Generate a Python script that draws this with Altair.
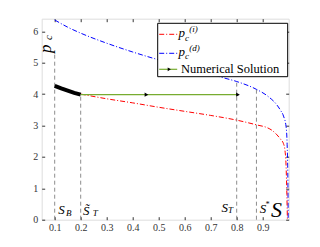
import altair as alt
import pandas as pd

# ---- data ----
blue_x = [0.1, 0.15, 0.2, 0.3, 0.4, 0.5, 0.6, 0.7, 0.74, 0.8, 0.876, 0.92, 0.955, 0.968, 0.98, 0.99, 0.994, 0.997, 0.998]
blue_y = [6.36, 6.13, 5.94, 5.62, 5.34, 5.09, 4.87, 4.65, 4.54, 4.40, 4.15, 3.93, 3.65, 3.49, 3.30, 2.96, 2.4, 1.2, 0.0]

red_x = [0.2, 0.3, 0.4, 0.5, 0.6, 0.7, 0.8, 0.876, 0.92, 0.935, 0.955, 0.97, 0.98, 0.985, 0.99, 0.993, 0.995]
red_y = [4.0, 3.85, 3.72, 3.58, 3.45, 3.32, 3.17, 3.02, 2.92, 2.85, 2.70, 2.55, 2.42, 2.25, 1.7, 0.8, 0.0]

black_x = [0.1, 0.125, 0.15, 0.175, 0.2]
black_y = [4.26, 4.18, 4.11, 4.04, 3.98]

green_x = [0.2, 0.805]
green_y = [3.98, 3.98]
arrow_x = [0.453, 0.805]
arrow_y = [3.98, 3.98]

vline_x = [0.1, 0.2, 0.8, 0.876]
vline_top = [5.34, 3.95, 4.40, 4.15]

x_ticks = [0.1, 0.2, 0.3, 0.4, 0.5, 0.6, 0.7, 0.8, 0.9]
y_ticks = [0, 1, 2, 3, 4, 5, 6]

# annotation glyphs (data coordinates)
ann_text = ["S", "B", "S\u0303", "T", "S", "T", "S", "*", "S"]
ann_x = [0.114, 0.143, 0.209, 0.246, 0.742, 0.767, 0.889, 0.910, 0.932]
ann_y = [0.18, 0.12, 0.15, 0.12, 0.245, 0.21, 0.21, 0.40, 0.10]
ann_size = [13, 9, 13, 9, 13, 9, 13, 8, 22]

W, H = 247, 201
FONT = "Liberation Serif"
XD = [0.05, 1.0]
YD = [0, 6.4]

xs = alt.Scale(domain=XD, nice=False, zero=False)
ys = alt.Scale(domain=YD, nice=False, zero=False)

def X(field, axis=None):
    return alt.X(field, type="quantitative", scale=xs, axis=axis, title=None)

def Y(field, axis=None):
    return alt.Y(field, type="quantitative", scale=ys, axis=axis, title=None)

common_axis = dict(domain=False, tickColor="black", tickSize=3, offset=-3, grid=False,
                   labelFont=FONT, labelFontSize=10, labelColor="#333333", tickWidth=0.8)

ax_bottom = alt.Axis(orient="bottom", values=x_ticks, format=".1f", labelPadding=3, **common_axis)
ax_left = alt.Axis(orient="left", values=y_ticks, format="d", labelPadding=4, **common_axis)
ax_top = alt.Axis(orient="top", values=x_ticks, labels=False, **common_axis)
ax_right = alt.Axis(orient="right", values=y_ticks, labels=False, **common_axis)

df_v = pd.DataFrame({"x": vline_x, "y0": [0] * len(vline_x), "y1": vline_top})
vlines = alt.Chart(df_v).mark_rule(color="#808080", strokeDash=[4, 3], strokeWidth=0.9).encode(
    x=X("x", ax_bottom), y=Y("y0", ax_left), y2="y1")

df_b = pd.DataFrame({"x": blue_x, "y": blue_y})
blue = alt.Chart(df_b).mark_line(color="#0000ff", strokeWidth=1, strokeDash=[5, 2, 1, 2],
                                  interpolate="monotone").encode(x=X("x", ax_top), y=Y("y", ax_right))

df_r = pd.DataFrame({"x": red_x, "y": red_y})
red = alt.Chart(df_r).mark_line(color="#ff0000", strokeWidth=1, strokeDash=[5, 2, 1, 2],
                                interpolate="monotone").encode(x=X("x"), y=Y("y"))

df_k = pd.DataFrame({"x": black_x, "y": black_y})
black = alt.Chart(df_k).mark_line(color="black", strokeWidth=4).encode(x=X("x"), y=Y("y"))

df_g = pd.DataFrame({"x": green_x, "y": green_y})
green = alt.Chart(df_g).mark_line(color="#77ac30", strokeWidth=1.2).encode(x=X("x"), y=Y("y"))

df_a = pd.DataFrame({"x": arrow_x, "y": arrow_y})
arrows = alt.Chart(df_a).mark_point(shape="triangle-right", filled=True, color="black", size=18,
                                    opacity=1).encode(x=X("x"), y=Y("y"))

df_ann = pd.DataFrame({"x": ann_x, "y": ann_y, "t": ann_text, "s": ann_size})
ann = alt.Chart(df_ann).mark_text(font=FONT, fontStyle="italic", align="left", baseline="alphabetic",
                                  color="black").encode(
    x=X("x"), y=Y("y"), text="t:N", size=alt.Size("s:Q", scale=None, legend=None))

# rotated p_c label
df_pc = pd.DataFrame({"x": [0.085, 0.0885], "y": [5.31, 5.72], "t": ["p", "c"], "s": [17, 11]})
pc = alt.Chart(df_pc).mark_text(font=FONT, fontStyle="italic", align="left", baseline="alphabetic",
                                angle=270, color="black").encode(
    x=X("x"), y=Y("y"), text="t:N", size=alt.Size("s:Q", scale=None, legend=None))

# ---- manual legend (pixel layout) ----
dummy = pd.DataFrame({"a": [0]})
legend_layers = []
legend_layers.append(alt.Chart(dummy).mark_rect(fill="white", stroke="black", strokeWidth=1).encode(
    x=alt.value(116), x2=alt.value(246), y=alt.value(4.6), y2=alt.value(58)))
legend_layers.append(alt.Chart(dummy).mark_rule(color="#ff0000", strokeWidth=1, strokeDash=[5, 2, 1, 2]).encode(
    x=alt.value(117.5), x2=alt.value(135.5), y=alt.value(15.6)))
legend_layers.append(alt.Chart(dummy).mark_rule(color="#0000ff", strokeWidth=1, strokeDash=[5, 2, 1, 2]).encode(
    x=alt.value(117.5), x2=alt.value(135.5), y=alt.value(34.6)))
legend_layers.append(alt.Chart(dummy).mark_rule(color="#77ac30", strokeWidth=1.2).encode(
    x=alt.value(117.5), x2=alt.value(135.5), y=alt.value(50.6)))
legend_layers.append(alt.Chart(dummy).mark_point(shape="triangle-right", filled=True, color="black",
                                                 size=14, opacity=1).encode(
    x=alt.value(127.6), y=alt.value(50.6)))

leg_txt = [
    ("p", 136.8, 18.8, 13), ("c", 143.4, 22.0, 9), ("(i)", 147.6, 13.4, 9),
    ("p", 136.8, 37.3, 13), ("c", 143.4, 40.4, 9), ("(d)", 147.6, 31.9, 9),
]
for t, px, py, s in leg_txt:
    legend_layers.append(alt.Chart(dummy).mark_text(text=t, font=FONT, fontStyle="italic", fontSize=s,
                                                    align="left", baseline="alphabetic", color="black").encode(
        x=alt.value(px), y=alt.value(py)))
legend_layers.append(alt.Chart(dummy).mark_text(text="Numerical Solution", font=FONT, fontSize=12.5,
                                                align="left", baseline="alphabetic", color="black").encode(
    x=alt.value(139.3), y=alt.value(54.0)))

chart = alt.layer(vlines, blue, red, black, green, arrows, ann, pc, *legend_layers).resolve_axis(
    x="independent", y="independent"
).properties(
    width=W, height=H, autosize="none",
    padding={"left": 33.7, "top": 10.7, "right": 20, "bottom": 30},
).configure_view(stroke="black", strokeWidth=1).configure(background="white")

chart.save("out.html", embed_options={"renderer": "svg", "actions": False})
